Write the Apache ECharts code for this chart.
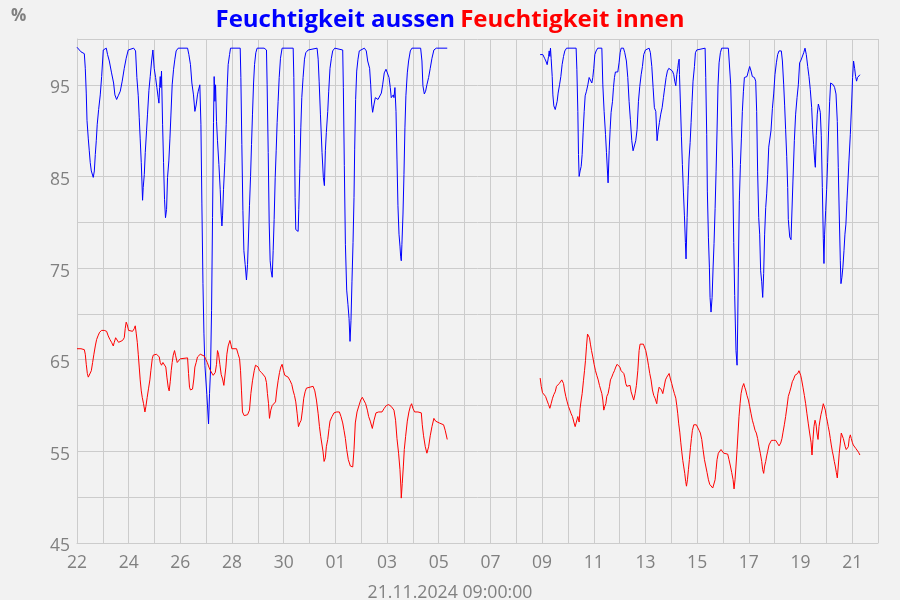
<!DOCTYPE html>
<html>
<head>
<meta charset="utf-8">
<script src="https://cdn.jsdelivr.net/npm/echarts@6/dist/echarts.min.js"></script>
<style>
html,body{margin:0;padding:0;background:#f2f2f2;}
#chart{width:900px;height:600px;}
</style>
</head>
<body>
<div id="chart"></div>
<script>
// Hours since 22.10.2024 00:00 and relative humidity (%)
const startDate = Date.UTC(2024, 9, 22);
const yTickLabels = [45, 55, 65, 75, 85, 95];
const axisNameText = '21.11.2024 09:00:00';
const seriesNames = ['Feuchtigkeit aussen', 'Feuchtigkeit innen'];

const aussenTeil1 = [
[0,99.1],[3.7,98.6],[6.8,98.4],[7.7,96.8],[8.6,94.1],[9.3,91.1],[10.5,89.1],[11.4,87.8],[12.3,86.5],[13.3,85.6],[15.1,84.9],[16.1,85.6],[17,87.4],[17.9,88.9],[18.8,90.7],[20.1,92.3],[21.6,93.9],[22.9,95.9],[24.4,98.8],[26,98.9],[27.2,99.0],[28.4,98.3],[30,97.6],[32.1,96.3],[34,95.2],[35.2,93.9],[36.8,93.4],[38.3,93.8],[40.2,94.3],[42,95.4],[43.9,96.8],[45.7,97.9],[47.6,98.8],[49.2,99.0],[52.6,99.0],[54.4,98.7],[55.6,95.8],[56.9,93.8],[57.8,91.4],[58.7,89.1],[59.7,86.5],[60.3,84.5],[60.9,82.4],[61.5,83.8],[62.5,85.2],[63.4,87.6],[64.6,90.0],[65.5,91.8],[66.8,94.4],[68,95.9],[69.3,97.6],[70.5,98.8],[71.7,96.8],[73,95.8],[74.2,94.7],[75.4,93.6],[76.1,93.0],[76.7,94.7],[77.3,95.9],[77.9,94.7],[78.5,96.5],[79.5,90.7],[80.4,86.5],[81.3,82.5],[82.2,80.5],[83.2,81.4],[84.1,84.9],[85.3,86.7],[86.3,89.1],[87.2,91.6],[88.4,95.0],[89.7,96.7],[90.9,97.8],[92.1,98.7],[94,99.0],[102.7,99.0],[103.9,98.3],[105.4,97.2],[106.7,95.2],[108.2,93.9],[109.5,92.1],[110.7,92.8],[111.9,93.9],
[112.6,94.3],[114.1,95.0],[115.1,90.7],[116,82.0],[117,73.3],[117.9,67.9],[118.8,64.4],[120.6,61.2],[122.2,58.0],[123.1,61.3],[124,63.8],[125,70.4],[125.9,80.5],[126.8,90.9],[127.4,95.9],[128.1,93.2],[128.7,95.0],[129.6,91.0],[130.5,88.9],[131.8,86.3],[133,83.6],[133.9,80.9],[134.6,79.6],[135.2,80.7],[136.1,83.6],[137.3,86.5],[138.6,90.7],[139.5,94.7],[140.4,97.2],[141.7,98.3],[142.6,99.0],[151.6,99.0],[152.2,95.8],[153.1,88.5],[154.1,81.3],[155,76.9],[156.2,75.4],[157.4,73.7],[158.4,75.4],[159.3,78.5],[160.2,81.8],[161.2,85.0],[162.1,88.5],[163,91.8],[164,95.2],[164.9,97.2],[166.1,98.5],[167.3,99.0],[173.8,99.0],[176,98.8],[176.6,95.0],[177.6,87.6],[178.5,80.0],[179.4,75.8],[180.3,74.7],[181.3,74.0],[182.2,76.9],[183.1,80.3],[184.1,84.9],[185,87.8],[185.9,90.9],[186.8,93.2],[187.8,95.8],[189,97.9],[190.5,99.0],[200.8,99.0],[201.4,95.8],[202,89.6],[202.6,82.7],[203.2,79.2],[205.4,79.0],[206,81.4],[207,85.9],[207.9,90.3],[208.8,93.6],[210,95.8],[211.3,97.8],[212.5,98.5],[214.7,98.8],[216.5,99.0],[223,99.0],[224,97.8],[224.9,95.4],[226.1,91.8],
[227.6,87.6],[228.8,84.9],[229.8,84.0],[230.7,87.8],[231.6,89.8],[232.9,92.1],[233.8,94.3],[235,96.8],[236.3,97.9],[237.5,98.7],[239.4,99.0],[246.8,98.8],[247.4,94.7],[248.3,86.2],[249.3,77.6],[250.5,72.6],[251.7,71.0],[252.7,69.5],[253.6,67.0],[254.5,69.3],[255.4,73.5],[256.4,77.8],[257.3,82.7],[257.9,87.9],[258.8,93.4],[259.8,96.5],[261,97.8],[262.2,98.7],[263.8,98.9],[266.9,99.0],[268.7,98.7],[270,97.6],[271.8,96.8],[272.8,95.0],[273.7,92.9],[274.6,92.0],[275.9,92.9],[277.1,93.6],[278.3,93.8],[279.6,93.4],[280.8,93.6],[282.7,94.1],[283.9,95.0],[285.4,96.3],[287,96.7],[288.8,96.8],[289.8,95.8],[291,94.7],[291.9,93.6],[292.9,93.4],[293.8,93.9],[294.4,93.6],[295.3,94.7],[296.3,92.1],[297.2,86.9],[298.1,81.8],[299.1,78.7],[300,77.4],[300.6,76.3],[301.2,75.8],[301.8,77.6],[302.8,80.9],[303.7,85.2],[304.6,90.3],[305.5,93.8],[306.8,96.3],[308,97.6],[309.6,98.7],[311.1,99.0],[319.2,99.0],[320.4,97.6],[321.3,94.9],[322.6,94.0],[323.8,94.3],[325,95.0],[326.6,95.8],[328.1,96.8],[329.7,97.9],[331.5,98.8],[333.7,99.0],[343.9,99.0]
];

const aussenTeil2 = [
[430.2,98.3],[432.7,98.3],[434.3,97.9],[435.5,97.6],[436.7,97.2],[438,98.1],[438.6,98.7],[439.2,98.1],[439.8,99.0],[440.4,97.9],[441.4,95.9],[442,93.9],[442.9,92.7],[444.2,92.3],[445.1,92.1],[446,93.2],[446.9,94.1],[448.2,95.0],[449.4,95.9],[450.6,97.2],[451.9,98.1],[453.1,98.7],[454.7,99.0],[463.6,99.0],[464.3,96.7],[465.2,92.1],[465.8,87.4],[466.4,85.0],[467.3,85.6],[468.3,86.1],[469.2,87.4],[470.1,89.8],[471.1,92.1],[472,93.8],[473.2,94.3],[474.5,95.0],[475.7,95.8],[476.9,95.6],[478.2,95.2],[479.1,95.8],[480,96.8],[481,98.3],[482.2,98.7],[483.7,99.0],[487.5,99.0],[488.4,95.0],[489.6,92.1],[490.9,89.6],[491.8,87.6],[492.7,85.6],[493.3,84.3],[494.3,87.8],[495.2,90.1],[496.1,92.0],[497.4,93.2],[498.3,94.7],[499.2,95.8],[500.1,96.4],[502.3,96.4],[503.5,97.4],[504.5,98.5],[505.4,99.0],[507.6,99.0],[508.8,98.5],[510.3,97.6],[511.6,95.8],[512.8,93.2],[514,91.2],[515.3,88.9],[516.5,87.8],[517.8,87.9],[519,88.9],[520.2,90.1],[521.5,93.2],[522.7,94.8],[524,96.1],[525.2,97.0],[526.4,98.3],[528,98.8],[529.5,99.0],[531.4,99.0],[532.6,98.5],[533.9,97.0],[535.1,94.7],[536.3,92.5],
[537.6,92.1],[538.8,88.9],[539.8,90.0],[541,90.9],[542.2,91.8],[543.5,92.5],[544.7,93.6],[545.9,94.7],[547.2,95.8],[548.4,96.5],[549.7,96.8],[551.5,96.6],[553.1,96.5],[554.3,96.1],[555.2,95.4],[556.2,94.9],[557.1,96.1],[558,96.8],[558.6,97.4],[559.3,97.8],[559.6,96.1],[560.5,92.9],[561.4,89.4],[562.3,86.3],[563.3,83.2],[564.2,80.7],[565.1,77.8],[565.7,76.0],[566.7,80.5],[567.6,84.0],[568.5,86.9],[569.5,88.7],[570.4,90.9],[571.3,93.2],[572.2,95.4],[573.5,97.0],[574.4,98.5],[575.6,98.8],[576.9,99.0],[583.4,99.0],[584,95.8],[584.9,89.6],[585.5,83.4],[586.5,78.3],[587.4,75.1],[588,71.8],[588.9,70.2],[589.9,71.8],[590.8,75.0],[591.7,77.7],[592.7,81.5],[593.6,85.5],[594.5,90.0],[595.4,94.9],[596.4,97.4],[597.6,98.5],[598.8,99.0],[605,99.0],[606.3,98.8],[607.2,95.0],[608.1,90.3],[609,85.9],[610,77.8],[610.9,72.0],[611.5,68.9],[612.1,66.0],[613.1,64.4],[613.7,68.9],[614.3,75.1],[615.2,82.4],[616.2,86.3],[617.1,89.1],[618,92.1],[619,94.3],[619.9,95.8],[621.1,95.6],[622.3,95.9],[623.6,96.5],[624.8,97.0],[626.1,96.5],[627.3,95.9],[629.2,95.8],[630.4,95.4],[631.3,92.1],[632.2,85.5],[633.2,80.5],[634.1,78.7],[635,74.7],[636,73.5],[636.9,71.8],[637.8,74.4],[638.7,78.7],[639.7,81.6],[640.6,83.1],[641.5,85.2],[642.5,88.2],
[644.6,90.0],[645.9,92.4],[647.1,94.0],[648.3,96.1],[649.6,97.4],[650.8,98.3],[652.1,98.7],[654.2,98.7],[655.2,97.6],[656.4,95.0],[657.3,92.7],[658.2,90.1],[659.2,87.2],[660.1,83.8],[660.7,80.3],[662,78.4],[663.2,78.1],[664.1,78.0],[665,84.5],[666.3,88.9],[667.5,91.8],[668.8,93.6],[670,95.0],[671.2,97.4],[672.5,97.7],[673.7,97.9],[675,98.5],[676.2,99.0],[677.4,98.3],[678.7,97.0],[679.9,95.9],[681.1,94.5],[682.4,92.5],[683.3,90.1],[684.2,88.5],[685.2,86.7],[685.8,86.0],[686.7,89.5],[687.6,91.8],[688.6,92.9],[689.5,92.5],[690.4,92.0],[691.3,89.5],[692.3,83.8],[693.2,78.2],[693.8,75.5],[694.4,78.7],[695.4,81.3],[696.3,83.6],[697.2,86.5],[698.1,90.0],[699.1,93.2],[700,95.2],[701.2,95.3],[702.5,95.0],[703.7,94.7],[705,94.0],[706.2,91.0],[707.1,86.0],[708,80.9],[709,75.8],[709.6,73.3],[710.5,74.0],[711.4,75.1],[712.4,76.9],[713.3,78.7],[714.2,79.8],[715.2,82.4],[716.1,84.5],[717,86.7],[718.3,89.6],[719.5,92.9],[720.4,95.8],[721.3,97.6],[722.3,96.8],[723.2,95.9],[724.1,95.4],[725,95.8],[726.3,95.9],[727.2,96.1]
];

const innenTeil1 = [
[0,66.2],[3.7,66.2],[6.8,66.1],[7.7,65.6],[8.6,64.5],[9.6,63.5],[10.5,63.1],[12.3,63.0],[13.3,63.8],[14.5,64.7],[15.7,65.6],[17,66.5],[18.2,67.2],[19.5,67.6],[21,68.0],[22.9,68.2],[25.3,68.2],[27.5,68.1],[29,67.6],[30.6,67.2],[32.1,66.9],[33.7,66.5],[34.6,66.9],[35.9,67.4],[37.1,67.2],[38.6,66.9],[40.2,67.0],[42.3,67.1],[43.9,67.4],[44.8,68.4],[45.7,69.1],[46.7,68.8],[47.9,68.2],[49.5,68.1],[51.6,68.1],[53.2,68.4],[54.1,68.7],[55,67.9],[56,66.9],[56.9,65.6],[57.8,64.2],[58.7,62.8],[59.7,61.6],[60.6,60.9],[61.8,60.2],[63.1,59.3],[64,59.9],[65.2,60.9],[66.5,61.9],[67.7,62.8],[68.6,63.8],[69.9,65.1],[70.8,65.5],[72.3,65.5],[73.9,65.6],[75.1,65.8],[76.4,65.3],[77.3,64.7],[78.5,64.4],[79.8,64.7],[81.6,64.9],[82.5,64.2],[83.5,63.1],[84.7,62.0],[85.6,61.6],[86.6,62.6],[87.5,63.8],[88.4,64.7],[89.4,65.5],[90.6,66.0],[91.5,65.5],[93.1,64.7],[94.3,64.9],[95.9,65.1],[97.7,65.2],[102.7,65.2],[103.6,63.5],[104.5,62.0],[105.4,61.7],[107.3,61.8],[108.5,62.9],[109.5,64.2],[110.7,64.7],[111.9,65.3],
[112.6,65.1],[114.5,65.6],[116.3,65.6],[118.2,65.4],[119.4,65.1],[121,64.7],[122.5,64.2],[124,63.8],[125.3,63.6],[126.5,63.3],[127.4,63.1],[128.4,63.6],[129.6,64.5],[130.5,66.0],[131.5,65.6],[132.7,64.5],[133.9,63.4],[135.2,62.9],[136.4,62.2],[137.3,62.0],[138.3,64.2],[139.2,65.6],[140.4,66.5],[142,67.1],[142.9,66.7],[143.8,66.2],[148.2,66.2],[149.7,65.6],[151,65.1],[151.9,63.8],[152.8,61.6],[153.7,59.3],[155.3,58.9],[156.8,58.7],[158.4,59.0],[160.2,59.5],[161.5,61.3],[163,62.7],[164.6,63.8],[165.8,64.4],[167,64.5],[168.3,64.2],[169.5,63.8],[171.4,63.6],[173.2,63.4],[174.8,63.1],[176,62.5],[176.9,61.3],[177.9,60.2],[178.8,58.6],[180,59.5],[181.3,60.0],[182.8,60.2],[184.4,60.4],[185.6,61.7],[186.8,62.7],[188.1,63.6],[189.3,64.2],[190.5,64.5],[191.8,63.8],[193,63.3],[194.3,63.2],[196.1,63.1],[198,62.7],[199.5,62.3],[200.8,61.6],[202,61.1],[203.2,60.4],[204.5,59.1],[205.7,57.7],[206.9,58.1],[208.2,58.4],[209.4,59.5],[210.6,60.8],[211.9,61.5],[213.1,61.9],[214.7,62.1],[219.3,62.1],[220.9,61.6],[222.4,60.6],[224,59.1],[225.2,57.7],[226.4,56.6],
[227.6,56.7],[228.5,55.0],[229.5,53.9],[230.7,54.3],[231.6,55.5],[232.9,56.3],[234.1,57.5],[235,58.3],[236.9,58.8],[238.7,59.2],[241.2,59.3],[243.7,59.3],[245.2,58.8],[246.8,58.1],[248,57.3],[249.3,56.4],[250.5,55.2],[252,54.1],[253.9,53.4],[256.1,53.3],[257.3,55.2],[258.5,58.1],[260.1,59.3],[261.9,60.0],[263.5,60.6],[265,60.9],[266.6,60.8],[268.1,60.2],[269.7,59.5],[270.9,58.8],[272.4,58.3],[274.3,57.5],[275.9,58.4],[277.7,59.2],[280.2,59.3],[283.3,59.3],[285.4,59.7],[287.3,60.0],[289.5,60.1],[291.9,59.9],[294.4,59.5],[295.9,58.4],[297.2,56.4],[298.7,54.8],[300,53.0],[300.9,51.0],[301.2,49.9],[302.1,51.5],[303.1,53.3],[304,55.2],[305.2,56.6],[306.8,58.3],[308.3,59.3],[309.6,59.9],[310.8,60.2],[312,59.7],[313.6,59.3],[316.7,59.3],[319.8,59.2],[320.7,57.9],[321.9,56.7],[323.5,55.5],[325,54.8],[326.6,55.5],[328.1,56.7],[329.7,57.7],[331.5,58.6],[333.1,58.3],[334.9,58.3],[336.5,58.1],[338.3,58.1],[340.5,57.9],[342,57.3],[343.9,56.3]
];

const innenTeil2 = [
[430.2,63.0],[431.2,62.1],[432.4,61.4],[433.6,61.2],[435.2,61.0],[436.4,60.6],[438,60.1],[439.2,59.7],[440.4,60.2],[441.7,60.8],[442.9,61.2],[444.2,61.5],[445.4,62.1],[446.6,62.2],[447.9,62.4],[449.1,62.6],[450.3,62.8],[451.3,62.8],[451.9,62.4],[452.8,61.7],[454,61.0],[455.3,60.4],[456.5,59.9],[457.8,59.5],[459,59.1],[460.2,58.8],[461.5,58.2],[462.7,57.7],[463.9,57.5],[465.2,58.8],[466.4,58.2],[467.3,59.7],[468.3,60.6],[469.2,61.3],[470.4,62.7],[471.4,63.8],[472.3,64.9],[473.2,66.4],[474.2,67.8],[475.1,67.6],[476,67.4],[476.9,66.7],[477.9,66.0],[479.1,65.3],[480.3,64.5],[481.6,63.8],[482.8,63.3],[484.1,62.8],[485.3,62.2],[486.5,61.7],[487.5,61.3],[488.4,60.6],[489.3,59.5],[490.2,59.9],[491.2,60.2],[492.1,61.0],[493.3,61.3],[494.6,62.1],[495.5,62.8],[496.7,63.1],[498,63.5],[499.2,63.8],[500.4,64.2],[501.7,64.5],[502.9,64.5],[504.2,64.2],[505.4,63.8],[506.6,63.6],[507.9,63.5],[508.8,63.1],[509.7,62.4],[510.7,62.1],[511.6,62.1],[512.5,62.2],[513.7,62.2],[514.7,61.5],[515.9,61.3],[517.1,60.6],[518.4,61.3],[519.6,62.2],[520.9,63.8],[522.1,66.0],[523,66.7],[526.1,66.7],[527.4,66.5],[528.3,66.0],[529.5,65.3],[530.8,64.4],[532,63.5],[533.2,62.8],[534.5,61.7],[535.7,61.1],[536.9,60.8],
[537.6,60.6],[538.5,60.2],[539.5,61.3],[540.7,62.0],[541.9,62.2],[542.9,61.7],[544.1,61.3],[545.3,62.0],[546.6,62.8],[547.8,63.1],[549,63.3],[550,63.5],[551.2,62.9],[552.4,62.4],[553.7,61.8],[554.9,61.3],[556.2,60.8],[557.1,60.0],[558,59.1],[558.9,58.0],[559.9,57.1],[560.8,56.0],[561.7,55.0],[562.7,54.0],[563.6,53.3],[564.5,52.6],[565.4,51.7],[566.1,51.2],[567,51.9],[567.9,53.0],[568.8,54.1],[569.8,55.4],[570.7,56.4],[571.6,57.3],[572.9,57.9],[574.1,58.1],[575.3,57.9],[576.6,57.7],[577.8,57.3],[579,57.0],[580.3,56.3],[581.5,55.2],[582.8,54.1],[584,53.4],[585.2,52.7],[586.5,51.9],[587.7,51.4],[588.9,51.2],[590.5,51.0],[591.7,50.9],[592.7,51.9],[593.6,53.0],[594.5,54.1],[595.7,54.8],[597,55.0],[598.2,55.2],[599.5,55.0],[600.7,54.8],[602.5,54.7],[604.4,54.7],[605.6,54.1],[606.9,53.4],[608.1,52.7],[609.4,51.9],[610.3,50.9],[611.2,51.9],[612.1,53.4],[613.1,55.2],[614,57.0],[614.9,58.8],[615.9,60.2],[616.8,61.3],[618,62.0],[619.3,62.4],[620.2,62.0],[621.1,61.7],[622.3,61.1],[623.6,60.6],[624.8,59.9],[626.1,59.1],[627.3,58.4],[628.5,57.9],[629.8,57.3],[631,57.0],[632.2,56.4],[633.5,55.5],[634.7,54.8],[636,53.9],[636.9,53.0],[637.8,52.6],[638.7,53.4],[639.7,53.9],[640.6,54.5],[641.5,55.0],[642.8,55.7],
[645,56.2],[647.1,56.2],[649,56.2],[650.5,55.9],[652.1,55.6],[653.6,55.9],[654.8,56.4],[655.8,57.1],[657,57.9],[658.2,58.8],[659.5,59.9],[660.7,61.0],[662,61.5],[663.2,62.0],[664.4,62.6],[665.7,62.9],[666.9,63.3],[668.1,63.5],[669.4,63.5],[670.6,63.8],[671.2,63.9],[672.2,63.3],[673.1,62.8],[674.3,62.0],[675.6,61.1],[676.8,60.2],[678,59.1],[679.3,58.0],[680.5,57.0],[681.8,56.0],[682.7,54.6],[683.6,56.3],[684.5,57.7],[685.5,58.4],[686.4,58.0],[687.3,57.0],[688.3,56.3],[689.2,57.7],[690.1,58.4],[691,59.0],[692,59.5],[693.2,60.2],[694.1,60.0],[695.1,59.5],[696,58.8],[696.9,58.3],[697.8,57.7],[698.8,57.1],[699.7,56.4],[700.6,55.7],[701.6,55.0],[702.5,54.5],[703.4,53.9],[704.3,53.4],[705.3,52.7],[706.2,52.1],[707.1,53.4],[708,54.8],[709,55.9],[709.9,57.0],[710.8,56.8],[711.8,56.4],[712.7,56.3],[713.6,55.5],[714.5,55.2],[715.5,55.0],[716.4,55.5],[717.3,56.4],[718.3,56.8],[719.2,56.4],[720.1,56.0],[721,55.7],[722.3,55.5],[723.5,55.3],[724.7,55.1],[725.9,54.9],[727.2,54.6]
];

// Data gap (no readings between 05.11. and 09.11.)
const gapHour = 390;
const aussen = aussenTeil1.concat([[gapHour, null]], aussenTeil2);
const innen = innenTeil1.concat([[gapHour, null]], innenTeil2);

const pad = n => (n < 10 ? '0' : '') + n;
const font = "'Open Sans', 'Noto Sans', sans-serif";
const grey = '#808080';

const chart = echarts.init(document.getElementById('chart'), null, {renderer: 'canvas'});
chart.setOption({
  backgroundColor: '#f2f2f2',
  animation: false,
  title: [{
    text: '{a|' + seriesNames[0] + '} {b|' + seriesNames[1] + '}',
    left: 'center',
    top: 3,
    textStyle: {
      rich: {
        a: {color: '#0000ff', fontSize: 24, fontWeight: 'bold', fontFamily: font},
        b: {color: '#ff0000', fontSize: 24, fontWeight: 'bold', fontFamily: font}
      }
    }
  }, {
    text: '%',
    left: 6,
    top: 3,
    textStyle: {color: grey, fontSize: 17, fontWeight: 'bold', fontFamily: font}
  }, {
    text: axisNameText,
    left: 'center',
    top: 579,
    textStyle: {color: grey, fontSize: 17.7, fontWeight: 'normal', fontFamily: font}
  }],
  grid: {left: 77, right: 22, top: 39, bottom: 57},
  xAxis: {
    type: 'value',
    min: 0,
    max: 744,
    interval: 24,
    axisLine: {show: true, lineStyle: {color: '#cccccc', width: 1}},
    axisTick: {show: false},
    splitLine: {show: true, lineStyle: {color: '#cccccc', width: 1}},
    axisLabel: {
      color: grey, fontSize: 17.5, fontFamily: font, margin: 11,
      formatter: function (h) {
        const d = Math.round(h / 24);
        if (d % 2 !== 0 || d > 30) return '';
        return pad(new Date(startDate + h * 3600000).getUTCDate());
      }
    }
  },
  yAxis: {
    type: 'value',
    min: 45,
    max: 100,
    interval: 5,
    axisLine: {show: true, lineStyle: {color: '#cccccc', width: 1}},
    axisTick: {show: false},
    splitLine: {show: true, lineStyle: {color: '#cccccc', width: 1}},
    axisLabel: {
      color: grey, fontSize: 17.5, fontFamily: font, margin: 7,
      formatter: function (v) {
        return yTickLabels.indexOf(v) >= 0 ? '{v|' + v + '}' : '';
      },
      rich: {
        v: {color: grey, fontSize: 17.5, fontFamily: font, padding: [7, 0, 0, 0]}
      }
    }
  },
  series: [{
    name: seriesNames[0],
    type: 'line',
    data: aussen,
    showSymbol: false,
    connectNulls: false,
    lineStyle: {color: '#0000ff', width: 1},
    itemStyle: {color: '#0000ff'}
  }, {
    name: seriesNames[1],
    type: 'line',
    data: innen,
    showSymbol: false,
    connectNulls: false,
    lineStyle: {color: '#ff0000', width: 1},
    itemStyle: {color: '#ff0000'}
  }]
});
</script>
</body>
</html>
